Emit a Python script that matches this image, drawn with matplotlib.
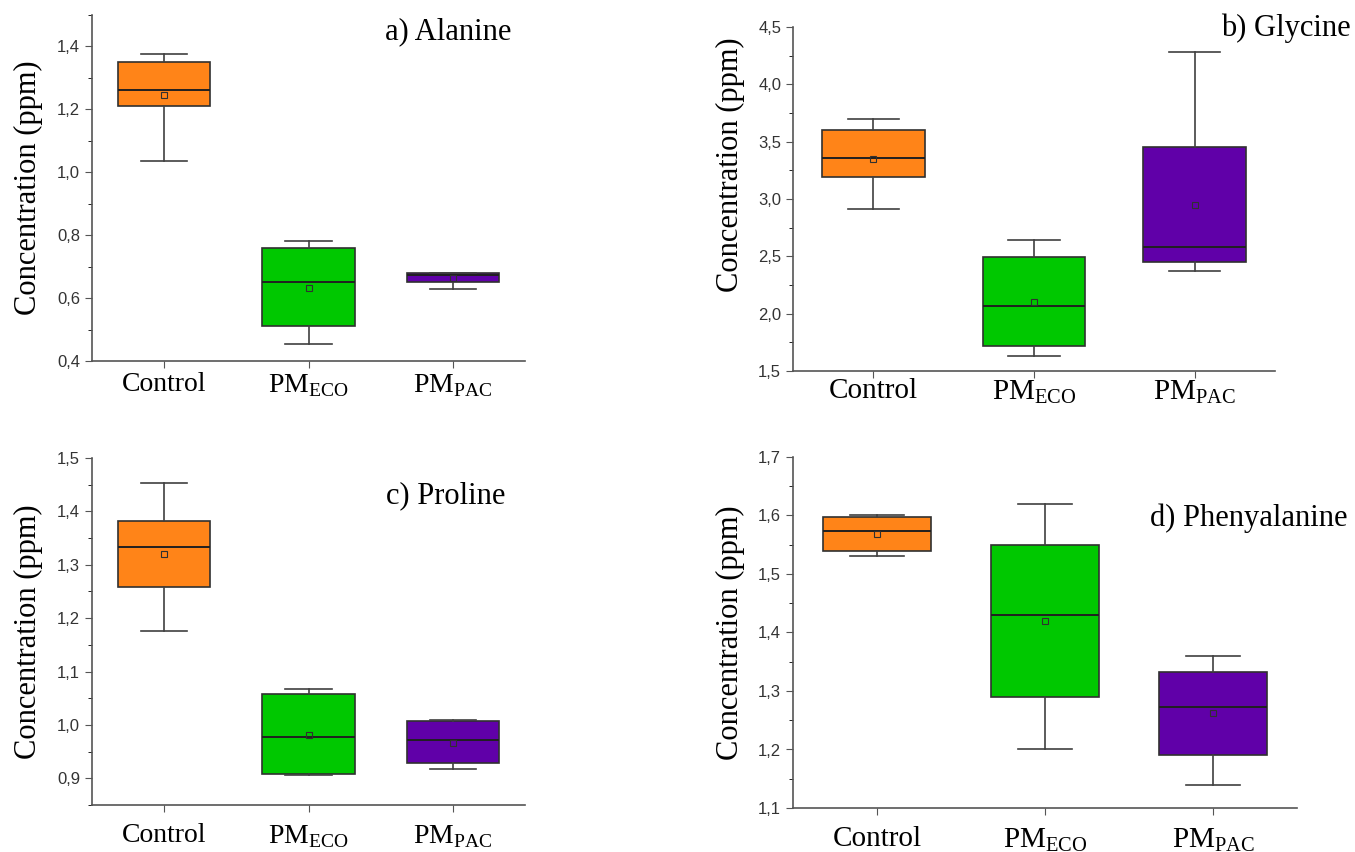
import matplotlib.pyplot as plt
from matplotlib.ticker import MultipleLocator, FuncFormatter

plt.rcParams['mathtext.fontset'] = 'custom'
plt.rcParams['mathtext.rm'] = 'Liberation Serif'

groups = ["Control", r"PM$_{\mathrm{ECO}}$", r"PM$_{\mathrm{PAC}}$"]
colors = ["#FF8418", "#00C800", "#6000A8"]

# per panel: whislo, q1, med, q3, whishi, mean for Control / ECO / PAC
alanine_low = [1.035, 0.455, 0.628]
alanine_q1 = [1.21, 0.51, 0.65]
alanine_med = [1.26, 0.65, 0.675]
alanine_q3 = [1.35, 0.76, 0.68]
alanine_high = [1.375, 0.782, 0.68]
alanine_mean = [1.245, 0.633, 0.664]

glycine_low = [2.91, 1.63, 2.37]
glycine_q1 = [3.19, 1.72, 2.45]
glycine_med = [3.36, 2.07, 2.58]
glycine_q3 = [3.60, 2.49, 3.45]
glycine_high = [3.70, 2.64, 4.28]
glycine_mean = [3.35, 2.10, 2.95]

proline_low = [1.176, 0.906, 0.918]
proline_q1 = [1.258, 0.908, 0.928]
proline_med = [1.334, 0.978, 0.972]
proline_q3 = [1.382, 1.058, 1.008]
proline_high = [1.453, 1.067, 1.010]
proline_mean = [1.320, 0.982, 0.967]

phe_low = [1.53, 1.20, 1.14]
phe_q1 = [1.54, 1.29, 1.19]
phe_med = [1.573, 1.43, 1.273]
phe_q3 = [1.598, 1.55, 1.332]
phe_high = [1.60, 1.62, 1.36]
phe_mean = [1.568, 1.42, 1.262]

W, H = 1355, 852
fig = plt.figure(figsize=(W / 100, H / 100), dpi=100)


def px_axes(left, right, top, bottom):
    ax = fig.add_axes([left / W, 1 - bottom / H, (right - left) / W, (bottom - top) / H])
    ax._px = (left, right)
    return ax


def panel(ax, low, q1, med, q3, high, mean, ylim, major, minor, title, tx, ty,
          xfs=20, xpad=8, ha="left", ylab_y=0.5, ylab_x=39):
    stats = []
    for i in range(3):
        stats.append(dict(whislo=low[i], q1=q1[i], med=med[i], q3=q3[i],
                          whishi=high[i], mean=mean[i], fliers=[]))
    bp = ax.bxp(stats, positions=[1, 2, 3], widths=0.64, patch_artist=True,
                showmeans=True,
                boxprops=dict(edgecolor="#303030", linewidth=1.2),
                medianprops=dict(color="#202020", linewidth=1.4),
                whiskerprops=dict(color="#404040", linewidth=1.2),
                capprops=dict(color="#404040", linewidth=1.2),
                meanprops=dict(marker="s", markersize=4, markerfacecolor="none",
                               markeredgecolor="#303030", markeredgewidth=0.8))
    for patch, c in zip(bp["boxes"], colors):
        patch.set_facecolor(c)
    ax.set_xlim(0.5, 3.5)
    ax.set_ylim(*ylim)
    ax.yaxis.set_major_locator(MultipleLocator(major))
    ax.yaxis.set_minor_locator(MultipleLocator(minor))
    ax.yaxis.set_major_formatter(FuncFormatter(lambda v, p: f"{v:.1f}".replace(".", ",")))
    ax.set_xticks([1, 2, 3])
    ax.set_xticklabels(groups, fontsize=xfs, family="Liberation Serif")
    for lab in ax.get_yticklabels():
        lab.set_family("Liberation Sans")
        lab.set_fontsize(12)
        lab.set_color("#333333")
    ax.tick_params(axis="both", direction="out", color="#555555")
    ax.tick_params(axis="y", which="major", length=5)
    ax.tick_params(axis="y", which="minor", length=3)
    ax.tick_params(axis="x", length=5, pad=xpad)
    for s in ["top", "right"]:
        ax.spines[s].set_visible(False)
    for s in ["left", "bottom"]:
        ax.spines[s].set_color("#555555")
        ax.spines[s].set_linewidth(1.2)
    ax.set_ylabel("Concentration (ppm)", fontsize=22, family="Liberation Serif")
    left, right = ax._px
    ax.yaxis.set_label_coords((ylab_x - left) / (right - left), ylab_y)
    fig.text(tx / W, 1 - ty / H, title, fontsize=22, family="Liberation Serif",
             ha=ha, va="center")


ax_a = px_axes(92, 525, 15, 361)
panel(ax_a, alanine_low, alanine_q1, alanine_med, alanine_q3, alanine_high, alanine_mean,
      (0.4, 1.5), 0.2, 0.1, "a) Alanine", 385, 32, xfs=20, xpad=3, ylab_x=43)

ax_b = px_axes(793, 1275, 27, 371)
panel(ax_b, glycine_low, glycine_q1, glycine_med, glycine_q3, glycine_high, glycine_mean,
      (1.5, 4.5), 0.5, 0.25, "b) Glycine", 1351, 28, xfs=21, xpad=0, ha="right",
      ylab_y=0.6, ylab_x=745)

ax_c = px_axes(92, 525, 458, 805)
panel(ax_c, proline_low, proline_q1, proline_med, proline_q3, proline_high, proline_mean,
      (0.85, 1.5), 0.1, 0.05, "c) Proline", 386, 496, xfs=20, xpad=8, ylab_x=43)

ax_d = px_axes(793, 1297, 457, 808)
panel(ax_d, phe_low, phe_q1, phe_med, phe_q3, phe_high, phe_mean,
      (1.1, 1.7), 0.1, 0.05, "d) Phenyalanine", 1150, 518, xfs=21, xpad=8, ylab_x=745)

fig.savefig("out.png", dpi=100)
